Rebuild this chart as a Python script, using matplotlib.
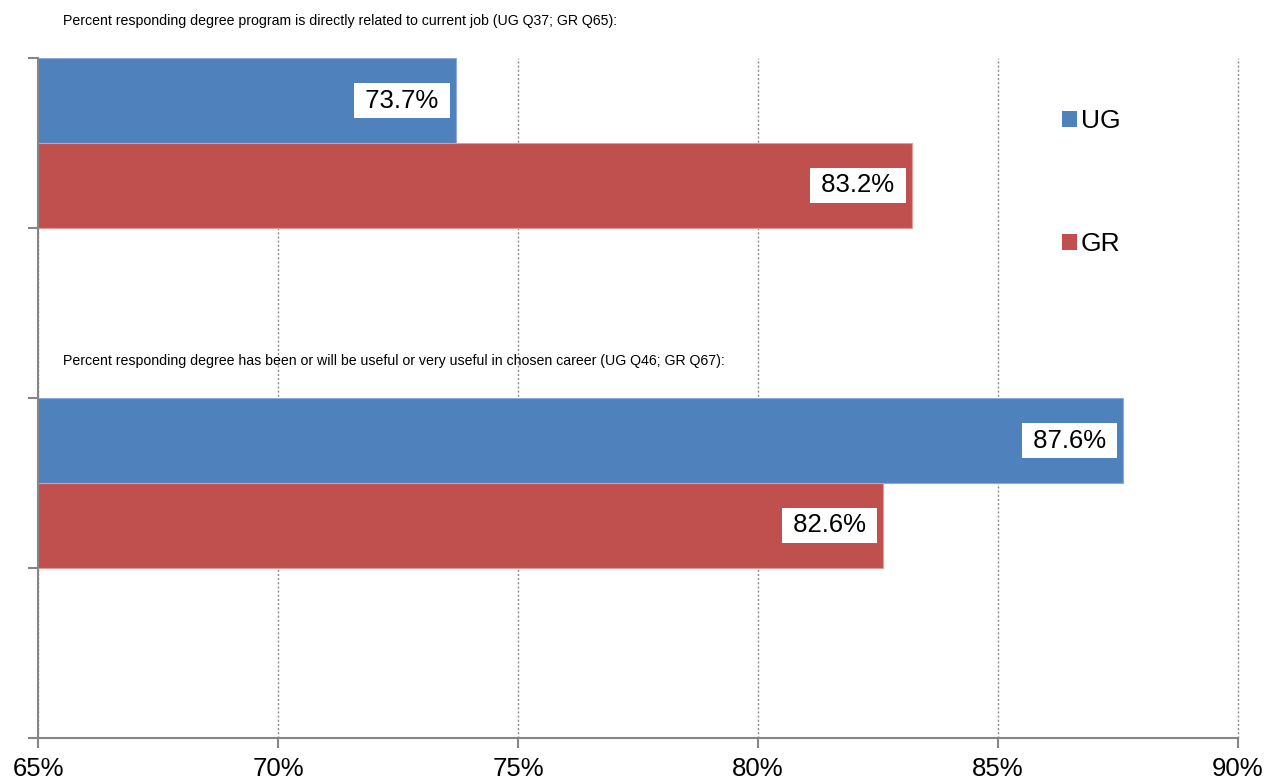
import matplotlib
matplotlib.use("Agg")
import matplotlib.pyplot as plt
from matplotlib.patches import Patch

questions = [
    "Percent responding degree program is directly related to current job (UG Q37; GR Q65):",
    "Percent responding degree has been or will be useful or very useful in chosen career (UG Q46; GR Q67):",
]
series_names = ["UG", "GR"]
ug_values = [73.7, 87.6]
gr_values = [83.2, 82.6]
x_ticks = [65, 70, 75, 80, 85, 90]
x_tick_labels = ["65%", "70%", "75%", "80%", "85%", "90%"]

colors = {"UG": "#4F81BD", "GR": "#C0504D"}
edge = {"UG": "#8FAADC", "GR": "#E39A98"}

plt.rcParams['font.family'] = ['Liberation Sans', 'DejaVu Sans']

fig = plt.figure(figsize=(12.7, 7.83), dpi=100)
ax = fig.add_axes([38/1270, 1 - 738/783, 1200/1270, 680/783])

bar_h = 0.5
for i, q in enumerate(questions):
    for j, (name, vals) in enumerate(zip(series_names, [ug_values, gr_values])):
        yc = 2 * i + bar_h * (j + 0.5)
        ax.barh(yc, vals[i], height=bar_h, color=colors[name],
                edgecolor=edge[name], linewidth=0.8, zorder=3)
        ax.annotate(f"\u2009{vals[i]:.1f}%\u2009", xy=(vals[i], yc), xytext=(-8.6, 0),
                    textcoords="offset points", ha="right", va="center",
                    fontsize=18.5, zorder=5,
                    bbox=dict(boxstyle="square,pad=0.23", fc="white", ec="none"))
    ax.text(25 / 1200, 2 * i - 0.215, q, transform=ax.get_yaxis_transform(),
            fontsize=10.2, ha="left", va="center", clip_on=False)

ax.set_xlim(65, 90)
ax.set_ylim(4, 0)
ax.set_xticks(x_ticks)
ax.set_xticklabels(x_tick_labels, fontsize=18.5)
ax.set_yticks([0, 1, 2, 3, 4])
ax.set_yticklabels([])
ax.tick_params(axis="x", length=7, width=1.5, color="#868686", pad=6.5)
ax.tick_params(axis="y", length=7, width=1.5, color="#868686")
ax.grid(axis="x", linestyle=(0, (1.5, 1.5)), color="#8C8C8C", linewidth=1, zorder=0)
for gl in ax.get_xgridlines():
    gl.set_clip_on(False)
ax.set_axisbelow(True)
for s in ["top", "right"]:
    ax.spines[s].set_visible(False)
for s in ["left", "bottom"]:
    ax.spines[s].set_color("#868686")
    ax.spines[s].set_linewidth(1.5)
    ax.spines[s].set_zorder(4)

handles = [Patch(facecolor=colors[n], edgecolor="none") for n in series_names]
leg = ax.legend(handles, series_names, loc="upper left",
                bbox_to_anchor=(1062/1270, 1 - 109/783), bbox_transform=fig.transFigure,
                frameon=False, fontsize=19, labelspacing=3.75, borderpad=0, borderaxespad=0,
                handlelength=0.55, handleheight=0.55, handletextpad=0.17)

fig.savefig("out.png", dpi=100)
